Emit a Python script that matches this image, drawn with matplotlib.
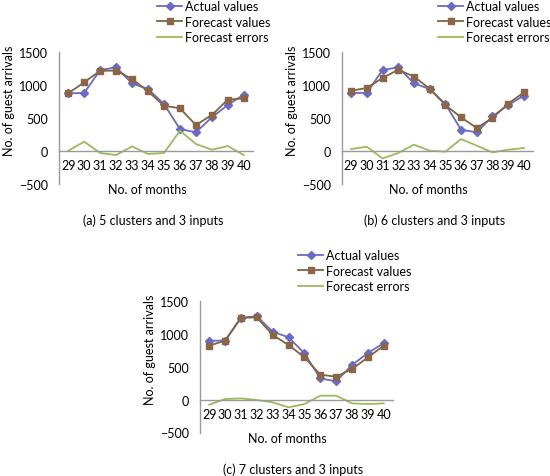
import numpy as np
import matplotlib
matplotlib.use("Agg")
import matplotlib.pyplot as plt
from matplotlib.lines import Line2D

plt.rcParams['font.family'] = ['Lato', 'DejaVu Sans']

months = [29, 30, 31, 32, 33, 34, 35, 36, 37, 38, 39, 40]

# (a) 5 clusters and 3 inputs
actual_a = [875, 880, 1230, 1270, 1027, 940, 712, 330, 280, 508, 697, 854]
forecast_a = [875, 1042, 1220, 1220, 1093, 905, 686, 646, 392, 544, 778, 798]
errors_a = [0, 137, -35, -66, 66, -50, -35, 305, 102, 15, 71, -66]

# (b) 6 clusters and 3 inputs
actual_b = [880, 880, 1230, 1270, 1027, 940, 712, 320, 280, 524, 697, 839]
forecast_b = [915, 956, 1108, 1235, 1129, 946, 697, 508, 346, 498, 717, 890]
errors_b = [25, 61, -117, -35, 92, 0, -15, 178, 76, -25, 15, 41]

# (c) 7 clusters and 3 inputs
actual_c = [900, 900, 1251, 1271, 1037, 951, 707, 325, 280, 529, 712, 864]
forecast_c = [824, 900, 1246, 1256, 986, 834, 646, 381, 351, 468, 646, 824]
errors_c = [-76, 10, 20, -5, -40, -117, -66, 61, 61, -56, -66, -56]

captions = ["(a) 5 clusters and 3 inputs", "(b) 6 clusters and 3 inputs",
            "(c) 7 clusters and 3 inputs"]
yticks = [-500, 0, 500, 1000, 1500]

W, H = 550, 477
c_act = '#6a6ac8'
c_fc = '#7d6540'
c_fc_m = '#8c6446'
c_err = '#9bbb59'
c_axis = '#9a9a9a'
fs = 9

fig = plt.figure(figsize=(W / 100, H / 100), dpi=100)


def panel(x0, x1, ytop, ybot, leg_x, actual, forecast, errors, caption):
    ax = fig.add_axes([x0 / W, (H - ybot) / H, (x1 - x0) / W, (ybot - ytop) / H])
    ax.plot(months, actual, color=c_act, lw=1.3, marker='D', ms=4,
            mfc=c_act, mec=c_act)
    ax.plot(months, forecast, color=c_fc, lw=1.3, marker='s', ms=5,
            mfc=c_fc_m, mec=c_fc_m)
    ax.plot(months, errors, color=c_err, lw=1.3)
    ax.set_xlim(28.42, 40.58)
    ax.set_ylim(-500, 1500)
    ax.set_xticks(months)
    ax.set_yticks(yticks)
    ax.tick_params(length=0, labelsize=fs, colors='black')
    ax.tick_params(axis='x', pad=6)
    ax.tick_params(axis='y', pad=8)
    for s in ['top', 'right']:
        ax.spines[s].set_visible(False)
    ax.spines['bottom'].set_position(('data', 0))
    for s in ['left', 'bottom']:
        ax.spines[s].set_color(c_axis)
        ax.spines[s].set_linewidth(1.0)
    ax.patch.set_alpha(0)
    # axis titles
    xm = (x0 + x1) / 2
    fig.text((xm - 9) / W, 1 - (ybot + 6) / H, "No. of months", fontsize=fs,
             ha='center', va='center')
    fig.text((x0 - 50) / W, 1 - (ytop + 48) / H, "No. of guest arrivals",
             fontsize=fs, rotation=90, ha='center', va='center')
    fig.text((xm - 3) / W, 1 - (ybot + 36) / H, caption, fontsize=fs,
             ha='center', va='center')
    # legend above plot
    handles = [
        Line2D([], [], color=c_act, lw=1.3, marker='D', ms=4, mfc=c_act, mec=c_act),
        Line2D([], [], color=c_fc, lw=1.3, marker='s', ms=5, mfc=c_fc_m, mec=c_fc_m),
        Line2D([], [], color=c_err, lw=1.3),
    ]
    fig.legend(handles, ["Actual values", "Forecast values", "Forecast errors"],
               loc='upper left', bbox_to_anchor=(leg_x / W, 1 - (ytop - 52) / H),
               frameon=False, fontsize=fs, handlelength=2.0, handletextpad=0.25,
               labelspacing=0.28, borderaxespad=0, borderpad=0)


panel(59, 253, 53.3, 184.5, 157, actual_a, forecast_a, errors_a, captions[0])
panel(342, 533, 53.3, 184.5, 438, actual_b, forecast_b, errors_b, captions[1])
panel(200, 393, 302.3, 433.5, 298, actual_c, forecast_c, errors_c, captions[2])

fig.savefig("out.png", dpi=100)
